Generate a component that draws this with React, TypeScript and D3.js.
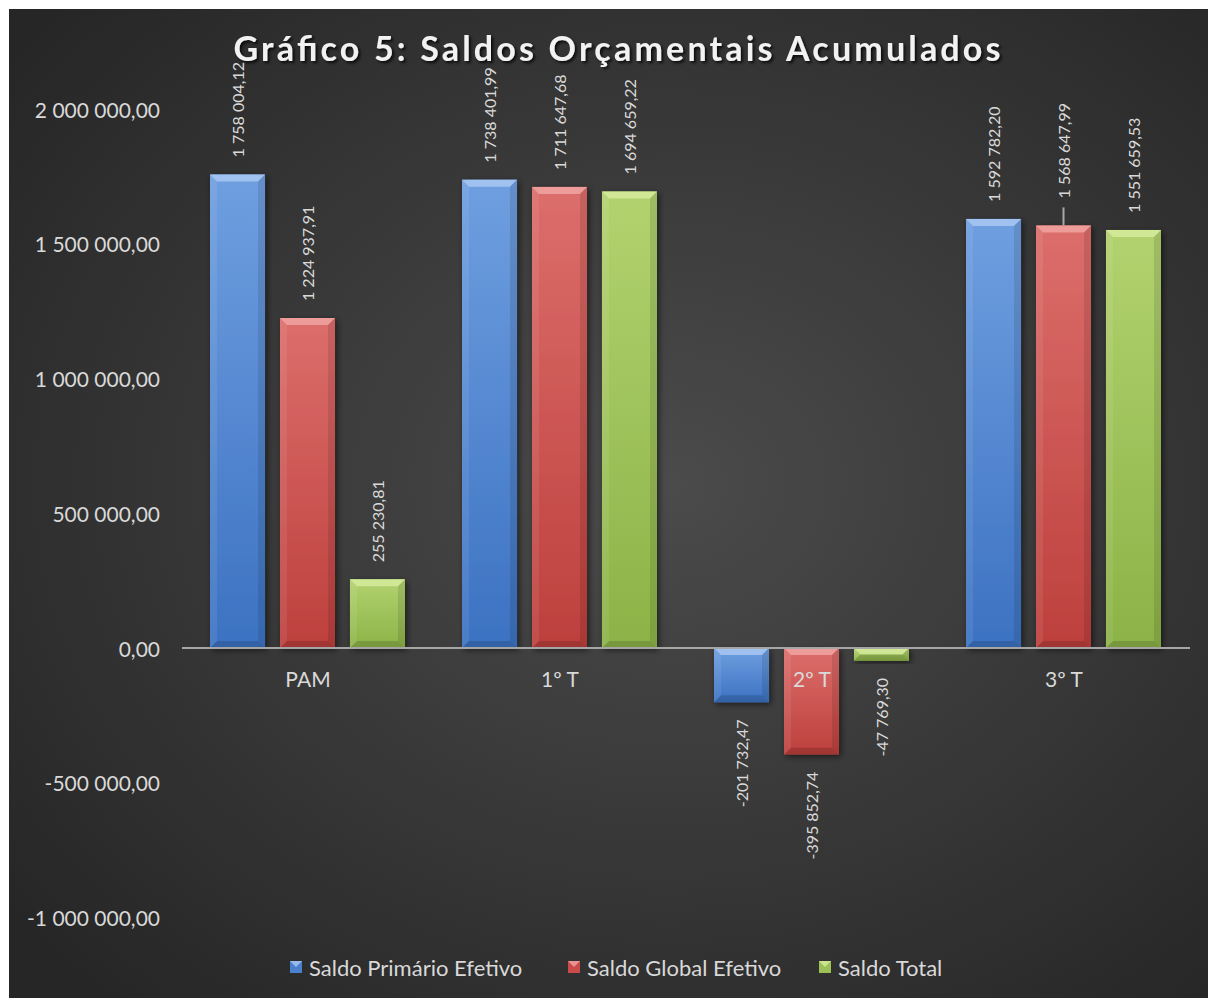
import React from "react";
import * as d3 from "d3";

const categories = ["PAM", "1º T", "2º T", "3º T"];
const seriesNames = ["Saldo Primário Efetivo", "Saldo Global Efetivo", "Saldo Total"];
const primario = [1758004.12, 1738401.99, -201732.47, 1592782.2];
const global = [1224937.91, 1711647.68, -395852.74, 1568647.99];
const total = [255230.81, 1694659.22, -47769.3, 1551659.53];
const yTicks = [-1000000, -500000, 0, 500000, 1000000, 1500000, 2000000];
const title = "Gráfico 5: Saldos Orçamentais Acumulados";

const seriesValues = [primario, global, total];
const colors = [
  { top: "#6f9fe0", bottom: "#3c72c2", facet: "#a9c8f2", legend: "#4a80cc" },
  { top: "#dc6e6b", bottom: "#bd403d", facet: "#f0a5a2", legend: "#c94c4a" },
  { top: "#b2d26f", bottom: "#8cb347", facet: "#d6ec9e", legend: "#9bc058" },
];

const W = 1208;
const H = 998;
const FONT = "Lato, 'Open Sans', sans-serif";
const TEXT = "#d9d9d9";

const fmt = d3.formatLocale({
  decimal: ",",
  thousands: " ",
  grouping: [3],
  currency: ["", ""],
  minus: "-",
}).format(",.2f");

export default function App() {
  const y = d3.scaleLinear().domain([-1000000, 2000000]).range([917.4, 109.2]);
  const x0 = d3.scaleBand().domain(categories).range([182, 1190]).paddingInner(0).paddingOuter(0);
  const x1 = d3.scaleBand().domain(seriesNames).range([28, 223]).paddingInner(0.214).paddingOuter(0);
  const zeroY = y(0);
  const legendX = [290, 568, 819];
  const leaderKey = "3º T|1";

  const bars: React.ReactNode[] = [];
  const labels: React.ReactNode[] = [];
  categories.forEach((cat, ci) => {
    seriesValues.forEach((vals, si) => {
      const v = vals[ci];
      const bx = (x0(cat) as number) + (x1(seriesNames[si]) as number);
      const bw = x1.bandwidth();
      const yTop = Math.min(y(v), zeroY);
      const bh = Math.abs(y(v) - zeroY);
      const b = Math.min(7, bh / 2);
      const c = colors[si];
      const gid = `g${si}`;
      bars.push(
        <g key={`b${ci}-${si}`}>
          <rect x={bx} y={yTop} width={bw} height={bh} fill={`url(#${gid})`} filter="url(#barShadow)" />
          <polygon
            points={`${bx},${yTop} ${bx + bw},${yTop} ${bx + bw - b},${yTop + b} ${bx + b},${yTop + b}`}
            fill={c.facet}
            opacity={0.85}
          />
          <polygon
            points={`${bx},${yTop} ${bx + b},${yTop + b} ${bx + b},${yTop + bh - b} ${bx},${yTop + bh}`}
            fill="#ffffff"
            opacity={0.08}
          />
          <polygon
            points={`${bx + bw},${yTop} ${bx + bw - b},${yTop + b} ${bx + bw - b},${yTop + bh - b} ${bx + bw},${yTop + bh}`}
            fill="#000000"
            opacity={0.1}
          />
          <polygon
            points={`${bx},${yTop + bh} ${bx + b},${yTop + bh - b} ${bx + bw - b},${yTop + bh - b} ${bx + bw},${yTop + bh}`}
            fill="#000000"
            opacity={0.15}
          />
        </g>
      );
      const cx = bx + bw / 2;
      const isLeader = `${cat}|${si}` === leaderKey;
      const gap = 17;
      const lift = isLeader ? 10 : 0;
      if (v >= 0) {
        const ay = y(v) - gap - lift;
        labels.push(
          <text
            key={`l${ci}-${si}`}
            transform={`translate(${cx},${ay}) rotate(-90)`}
            textAnchor="start"
            dominantBaseline="central"
            fill={TEXT}
            fontSize={16}
            fontFamily={FONT}
          >
            {fmt(v)}
          </text>
        );
        if (isLeader) {
          labels.push(
            <line key={`ll${ci}-${si}`} x1={cx} x2={cx} y1={y(v)} y2={y(v) - 18} stroke="#a6a6a6" strokeWidth={2} />
          );
        }
      } else {
        const ay = y(v) + gap;
        labels.push(
          <text
            key={`l${ci}-${si}`}
            transform={`translate(${cx},${ay}) rotate(-90)`}
            textAnchor="end"
            dominantBaseline="central"
            fill={TEXT}
            fontSize={16}
            fontFamily={FONT}
          >
            {fmt(v)}
          </text>
        );
      }
    });
  });

  return (
    <svg
      width={W}
      height={H}
      style={{ position: "absolute", left: 0, top: 0, display: "block" }}
    >
      <defs>
        <radialGradient id="bg" cx="55%" cy="48%" r="70%">
          <stop offset="0%" stopColor="#4b4b4b" />
          <stop offset="100%" stopColor="#262626" />
        </radialGradient>
        {colors.map((c, i) => (
          <linearGradient key={i} id={`g${i}`} x1="0" y1="0" x2="0" y2="1">
            <stop offset="0%" stopColor={c.top} />
            <stop offset="100%" stopColor={c.bottom} />
          </linearGradient>
        ))}
        <filter id="barShadow" x="-20%" y="-20%" width="140%" height="140%">
          <feDropShadow dx="2" dy="2" stdDeviation="3" floodColor="#000" floodOpacity="0.55" />
        </filter>
        <filter id="titleShadow" x="-10%" y="-30%" width="120%" height="160%">
          <feDropShadow dx="2" dy="2" stdDeviation="1.5" floodColor="#000" floodOpacity="0.8" />
        </filter>
      </defs>
      <rect x={0} y={0} width={W} height={H} fill="#ffffff" />
      <rect x={9} y={9} width={W - 9} height={H - 9} fill="url(#bg)" />

      <text
        x={617}
        y={61}
        textAnchor="middle"
        fill="#f2f2f2"
        fontSize={34}
        fontWeight="bold"
        fontFamily={FONT}
        textLength={767}
        lengthAdjust="spacing"
        filter="url(#titleShadow)"
      >
        {title}
      </text>

      {yTicks.map((t) => (
        <text
          key={t}
          x={160}
          y={y(t)}
          textAnchor="end"
          dominantBaseline="central"
          fill={TEXT}
          fontSize={21}
          fontFamily={FONT}
        >
          {fmt(t)}
        </text>
      ))}

      {bars}

      <line x1={182} x2={1190} y1={zeroY} y2={zeroY} stroke="#a6a6a6" strokeWidth={2} />

      {labels}

      {categories.map((cat) => (
        <text
          key={cat}
          x={(x0(cat) as number) + x0.bandwidth() / 2}
          y={678}
          textAnchor="middle"
          dominantBaseline="central"
          fill={TEXT}
          fontSize={21}
          fontFamily={FONT}
        >
          {cat}
        </text>
      ))}

      {seriesNames.map((name, i) => (
        <g key={name} transform={`translate(${legendX[i]},967)`}>
          <rect x={0} y={-6} width={12} height={12} fill={colors[i].legend} />
          <polygon points="0,-6 12,-6 6,0" fill={colors[i].facet} opacity={0.8} />
          <text x={19} y={0} dominantBaseline="central" fill={TEXT} fontSize={22} fontFamily={FONT}>
            {name}
          </text>
        </g>
      ))}
    </svg>
  );
}
